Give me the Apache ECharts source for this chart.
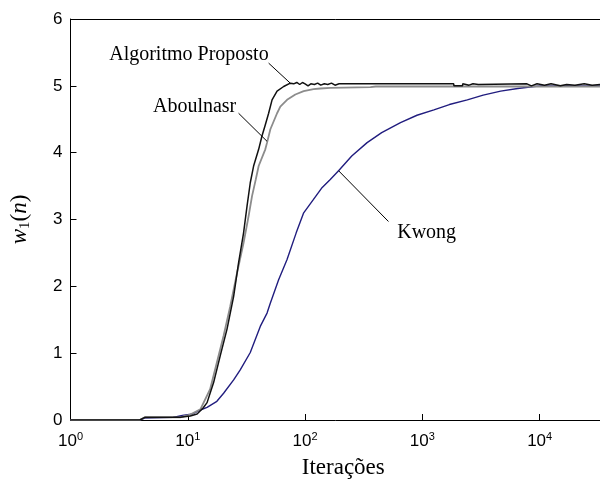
<!DOCTYPE html>
<html>
<head>
<meta charset="utf-8">
<script src="https://cdn.jsdelivr.net/npm/echarts@6/dist/echarts.min.js"></script>
<style>
  html, body { margin: 0; padding: 0; background: #fff; }
  #chart { width: 600px; height: 484px; }
</style>
</head>
<body>
<div id="chart"></div>
<script>
// [iterations, w1(n)]
const proposto = [
  [1, 0], [3.9, 0], [4.3, 0.04], [8.6, 0.04], [10.5, 0.06], [12, 0.09], [13.5, 0.18],
  [14.6, 0.26], [16.6, 0.56], [18.9, 0.96], [21.6, 1.36], [24.6, 1.85], [27.1, 2.35],
  [29.9, 2.8], [32, 3.2], [34.1, 3.55], [36.4, 3.8], [40.2, 4.05], [42.9, 4.25],
  [45.5, 4.4], [48.9, 4.59], [52.3, 4.79], [57.7, 4.92], [65.7, 4.99], [74.8, 5.04],
  [80, 5.03], [85, 5.05], [90, 5.02], [95, 5.05], [100, 5.03], [106, 5.0], [112, 5.03],
  [120, 5.02], [128, 5.04], [136, 5.01], [146, 5.03], [156, 5.02], [168, 5.04],
  [180, 5.01], [195, 5.03], [1850, 5.03], [1860, 5.0], [2200, 5.0], [2210, 5.03],
  [2500, 5.01], [2700, 5.03], [3000, 5.02], [7800, 5.03], [8500, 5.0], [9500, 5.03],
  [11000, 5.01], [12500, 5.03], [15000, 5.0], [17000, 5.02], [20000, 5.01],
  [24000, 5.03], [28000, 5.01], [33000, 5.02]
];
const aboulnasr = [
  [1, 0], [3.9, 0], [4.3, 0.04], [8.6, 0.04], [10.5, 0.08], [12.8, 0.16], [15.5, 0.46],
  [17.7, 0.86], [20.2, 1.26], [23, 1.7], [26.3, 2.2], [29.9, 2.65], [33, 3.05],
  [35.3, 3.35], [38, 3.6], [40.2, 3.8], [45.8, 4.05], [47.4, 4.15], [50.6, 4.35],
  [57.7, 4.59], [61.5, 4.69], [70.2, 4.79], [82.6, 4.87], [97.3, 4.92], [118, 4.95],
  [135, 4.96], [164, 4.97], [361, 4.98], [400, 4.99], [33000, 4.99]
];
const kwong = [
  [1, 0], [3.9, 0], [4.3, 0.03], [7.5, 0.04], [9, 0.07], [11, 0.09], [12.8, 0.15],
  [14.6, 0.19], [17.7, 0.28], [20.2, 0.4], [24.6, 0.6], [28, 0.75], [34.1, 1.01],
  [41.5, 1.4], [47.4, 1.6], [50.6, 1.75], [59.5, 2.1], [70.2, 2.4], [84, 2.8],
  [97.3, 3.1], [118, 3.3], [140, 3.48], [164, 3.6], [193, 3.73], [250, 3.95],
  [338, 4.15], [450, 4.3], [651, 4.45], [900, 4.56], [1254, 4.64], [1700, 4.72],
  [2417, 4.79], [3300, 4.86], [4650, 4.92], [6500, 4.96], [8960, 4.99], [10200, 5.0],
  [33000, 5.0]
];

// annotation text anchors and leader lines, in data coords
const labels = [
  { text: 'Algoritmo Proposto', at: [48.9, 5.47], side: 'left' },
  { text: 'Aboulnasr', at: [25.9, 4.69], side: 'left' },
  { text: 'Kwong', at: [610, 2.8], side: 'right' }
];
const leaders = [
  [[48.9, 5.34], [74.8, 5.04]],
  [[27.1, 4.59], [47.4, 4.17]],
  [[193, 3.73], [514, 2.97]]
];

const xMin = 1, xMax = 32700;
const yTicks = [0, 1, 2, 3, 4, 5, 6];

const sansFont = '"Liberation Sans", Arial, sans-serif';
const serifFont = '"Liberation Serif", "Times New Roman", serif';

const chart = echarts.init(document.getElementById('chart'));

const axisLine = { show: true, lineStyle: { color: '#000', width: 1 } };

chart.setOption({
  animation: false,
  grid: { left: 70, right: 0, top: 19, bottom: 63 },
  xAxis: [
    {
      type: 'log',
      logBase: 10,
      min: xMin,
      max: xMax,
      axisLine: axisLine,
      axisTick: { show: true, inside: true, length: 6, lineStyle: { color: '#000' } },
      minorTick: { show: false },
      splitLine: { show: false },
      axisLabel: {
        margin: 11,
        showMaxLabel: false,
        color: '#000',
        fontFamily: sansFont,
        fontSize: 17,
        formatter: (v) => '{b|10}{e|' + Math.round(Math.log10(v)) + '}',
        rich: {
          b: { fontSize: 17, fontFamily: sansFont, color: '#000' },
          e: { fontSize: 11, fontFamily: sansFont, color: '#000', padding: [0, 0, 9, 0] }
        }
      },
      name: 'Iterações',
      nameLocation: 'middle',
      nameGap: 36,
      nameTextStyle: { fontFamily: serifFont, fontSize: 23, color: '#000', padding: [0, 0, 0, 16] }
    },
    {
      type: 'log',
      logBase: 10,
      min: xMin,
      max: xMax,
      position: 'top',
      axisLine: axisLine,
      axisTick: { show: false },
      axisLabel: { show: false },
      splitLine: { show: false }
    }
  ],
  yAxis: {
    type: 'value',
    min: yTicks[0],
    max: yTicks[yTicks.length - 1],
    interval: 1,
    axisLine: axisLine,
    axisTick: { show: true, inside: true, length: 6, lineStyle: { color: '#000' } },
    splitLine: { show: false },
    axisLabel: { margin: 8, color: '#000', fontFamily: sansFont, fontSize: 17 },
    name: '{w|w}{s|1}{p|(}{n|n}{p|)}',
    nameLocation: 'middle',
    nameGap: 38,
    nameTextStyle: {
      rich: {
        w: { fontFamily: serifFont, fontStyle: 'italic', fontSize: 23, color: '#000', lineHeight: 26 },
        s: { fontFamily: serifFont, fontSize: 15, color: '#000', verticalAlign: 'bottom', lineHeight: 16 },
        p: { fontFamily: serifFont, fontSize: 23, color: '#000', lineHeight: 26 },
        n: { fontFamily: serifFont, fontStyle: 'italic', fontSize: 23, color: '#000', lineHeight: 26 }
      }
    }
  },
  series: [
    {
      name: 'Kwong',
      type: 'line',
      data: kwong,
      showSymbol: false,
      lineStyle: { color: '#211d7f', width: 1.4 }
    },
    {
      name: 'Aboulnasr',
      type: 'line',
      data: aboulnasr,
      showSymbol: false,
      lineStyle: { color: '#8c8c8c', width: 1.8 }
    },
    {
      name: 'Algoritmo Proposto',
      type: 'line',
      data: proposto,
      showSymbol: false,
      lineStyle: { color: '#111', width: 1.5 },
      markLine: {
        silent: true,
        symbol: ['none', 'none'],
        label: { show: false },
        lineStyle: { color: '#000', width: 1, type: 'solid' },
        data: leaders.map((l) => [{ coord: l[0] }, { coord: l[1] }])
      },
      markPoint: {
        silent: true,
        symbol: 'circle',
        symbolSize: 0,
        data: labels.map((l) => ({
          coord: l.at,
          label: {
            show: true,
            formatter: l.text,
            position: l.side,
            distance: 0,
            color: '#000',
            fontFamily: serifFont,
            fontSize: 20
          }
        }))
      }
    }
  ]
});
</script>
</body>
</html>
